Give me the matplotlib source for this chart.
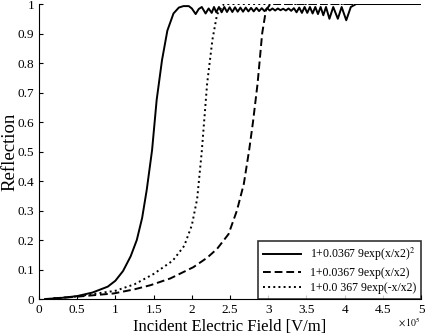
import matplotlib.pyplot as plt

plt.rcParams['font.family'] = ['Liberation Serif', 'DejaVu Serif']
plt.rcParams['mathtext.fontset'] = 'stix'

# x in units of 1e5 V/m
x_sq = [0.08, 0.3, 0.5, 0.7, 0.9, 1.0, 1.1, 1.2, 1.28, 1.35, 1.41, 1.48, 1.54, 1.61,
        1.68, 1.76, 1.83, 1.89, 1.96, 2.0, 2.05, 2.09, 2.13, 2.18, 2.22, 2.26, 2.29,
        2.32, 2.355, 2.39, 2.425, 2.46, 2.495, 2.53, 2.565, 2.60, 2.635, 2.67, 2.705,
        2.74, 2.775, 2.81, 2.845, 2.88, 2.915, 2.95, 2.985, 3.02, 3.055, 3.09, 3.125,
        3.16, 3.195, 3.23, 3.265, 3.30, 3.335, 3.37, 3.405, 3.44, 3.475, 3.51, 3.545,
        3.58, 3.615, 3.65, 3.685, 3.72, 3.755, 3.80, 3.85, 3.91, 3.96, 4.02, 4.08,
        4.15, 5.0]
y_sq = [0.0, 0.004, 0.01, 0.022, 0.042, 0.062, 0.095, 0.145, 0.2, 0.275, 0.37, 0.505, 0.675, 0.81,
        0.91, 0.968, 0.988, 0.993, 0.993, 0.985, 0.966, 0.983, 0.99, 0.968, 0.985, 0.97, 0.99,
        0.972, 0.99, 0.972, 0.99, 0.973, 0.989, 0.973, 0.989, 0.974, 0.988, 0.974, 0.988,
        0.975, 0.987, 0.975, 0.987, 0.976, 0.986, 0.976, 0.986, 0.978, 0.985, 0.978, 0.985,
        0.979, 0.984, 0.978, 0.985, 0.977, 0.986, 0.972, 0.988, 0.97, 0.99, 0.97, 0.99,
        0.968, 0.99, 0.966, 0.99, 0.962, 0.99, 0.95, 0.99, 0.95, 0.99, 0.945, 0.99,
        1.0, 1.0]

x_pos = [0.19, 0.5, 0.98, 1.25, 1.46, 1.72, 2.02, 2.2, 2.33, 2.48, 2.59, 2.68, 2.75,
         2.8, 2.86, 2.92, 2.97, 3.03, 5.0]
y_pos = [0.002, 0.008, 0.019, 0.033, 0.047, 0.07, 0.108, 0.14, 0.17, 0.22, 0.30, 0.39, 0.505,
         0.60, 0.73, 0.90, 0.98, 1.0, 1.0]

x_neg = [0.19, 0.5, 1.0, 1.25, 1.5, 1.75, 1.9, 2.0, 2.07, 2.13, 2.2, 2.27, 2.33, 2.42, 5.0]
y_neg = [0.002, 0.009, 0.028, 0.05, 0.085, 0.13, 0.18, 0.25, 0.34, 0.5, 0.73, 0.88, 0.965,
         1.0, 1.0]

labels = ['1+0.0367 9exp(x/x2)$^2$', '1+0.0367 9exp(x/x2)', '1+0.0 367 9exp(-x/x2)']

fig = plt.figure(figsize=(4.28, 3.36), dpi=100)
ax = fig.add_axes([0.091, 0.110, 0.893, 0.878])

ax.plot(x_sq, y_sq, color='black', linestyle='-', linewidth=1.4, label=labels[0])
ax.plot(x_pos, y_pos, color='black', linestyle='--', linewidth=1.4, dashes=(4, 2), label=labels[1])
ax.plot(x_neg, y_neg, color='black', linestyle=':', linewidth=1.4, label=labels[2])

ax.set_xlim(0, 5)
ax.set_ylim(0, 1)
ax.set_xticks([0, 0.5, 1, 1.5, 2, 2.5, 3, 3.5, 4, 4.5, 5])
ax.set_xticklabels(['0', '0.5', '1', '1.5', '2', '2.5', '3', '3.5', '4', '4.5', '5'])
ax.set_yticks([0, 0.1, 0.2, 0.3, 0.4, 0.5, 0.6, 0.7, 0.8, 0.9, 1])
ax.set_yticklabels(['0', '0.1', '0.2', '0.3', '0.4', '0.5', '0.6', '0.7', '0.8', '0.9', '1'])
ax.tick_params(direction='in', labelsize=9.5, length=3, color='black')
ax.spines['top'].set_visible(False)
ax.spines['right'].set_visible(False)

ax.set_xlabel('Incident Electric Field [V/m]', fontsize=12, labelpad=2)
ax.set_ylabel('Reflection', fontsize=13.5)
ax.yaxis.set_label_coords(-0.054, 0.5)
fig.text(0.982, 0.02, r'$\times\,10^5$', fontsize=7, ha='right', va='bottom')

leg = ax.legend(loc='lower right', fontsize=8.5, frameon=True, fancybox=False,
                edgecolor='black', handlelength=3.2, borderaxespad=0.0,
                borderpad=0.4, labelspacing=0.3)
leg.get_frame().set_linewidth(1.2)

fig.savefig('out.png', dpi=100)
